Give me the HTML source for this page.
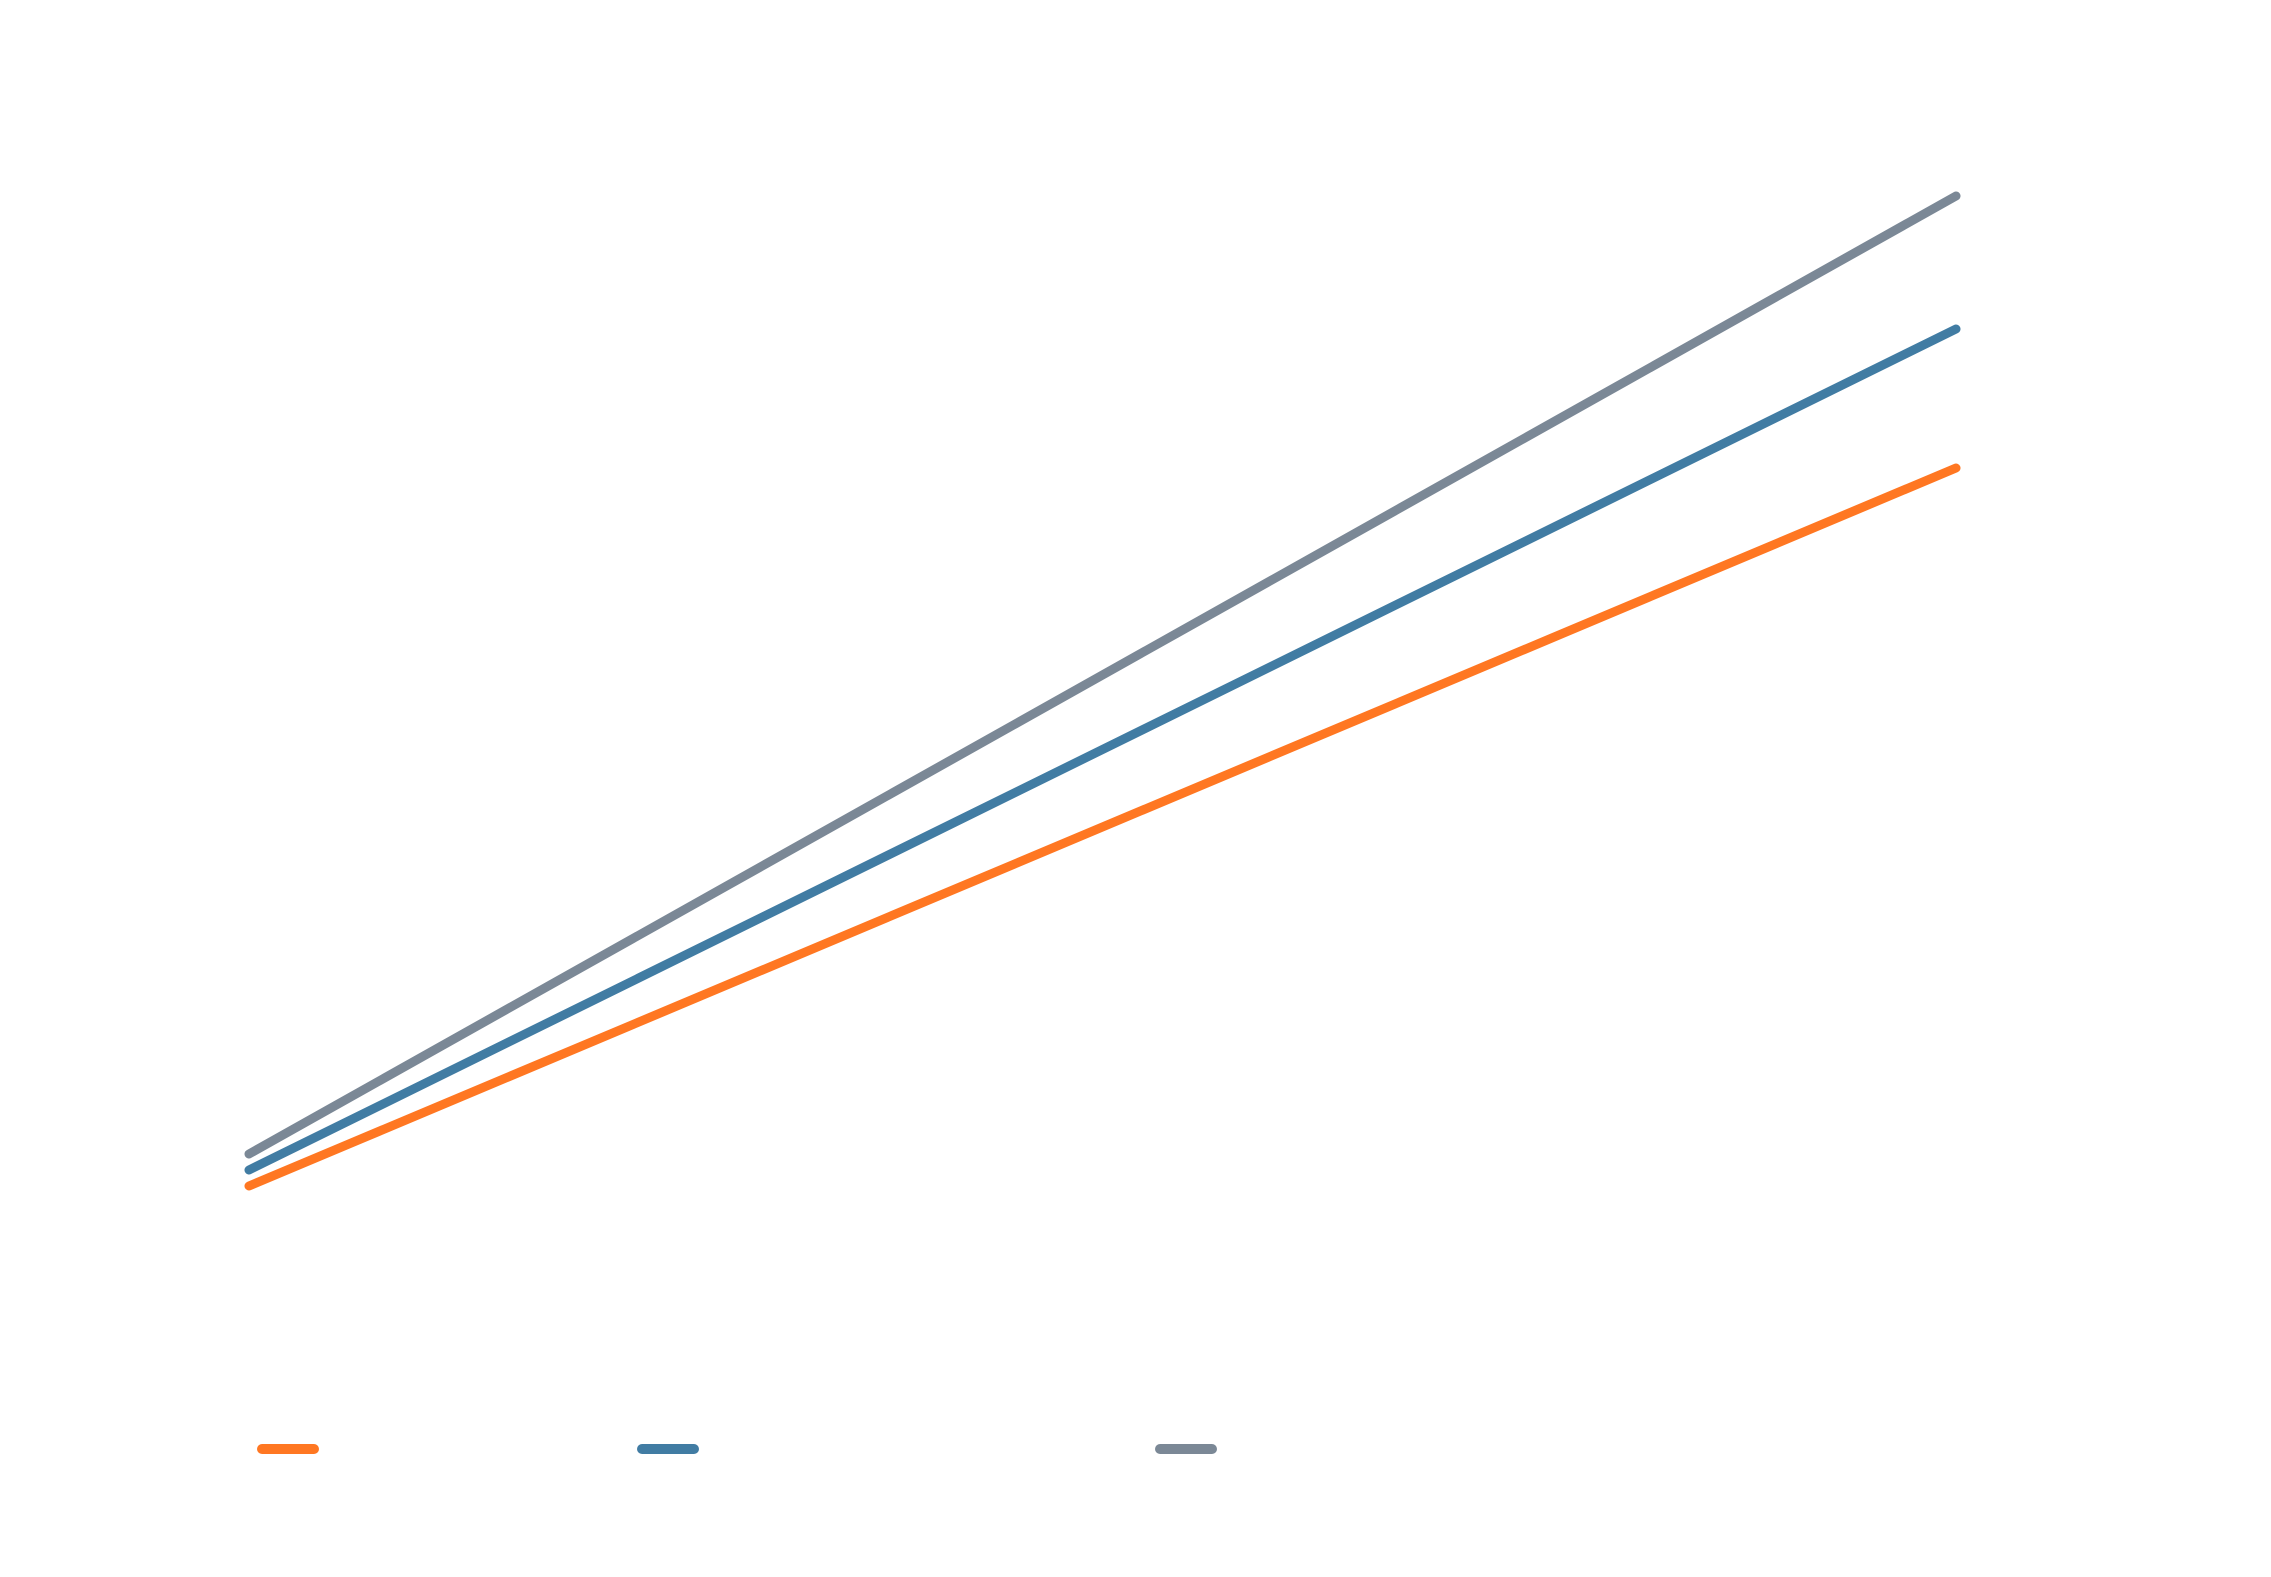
<!DOCTYPE html>
<html><head><meta charset="utf-8"><style>html,body{margin:0;padding:0;background:#fff}svg{display:block}</style></head>
<body>
<svg width="2271" height="1577" viewBox="0 0 2271 1577" xmlns="http://www.w3.org/2000/svg">
<rect width="2271" height="1577" fill="#fff"/>
<g stroke-linecap="round" fill="none" stroke-width="9">
<line x1="249" y1="1154" x2="1956" y2="196" stroke="#7b8896"/>
<line x1="249" y1="1170" x2="1956" y2="329" stroke="#417ca3"/>
<line x1="249" y1="1186" x2="1956" y2="468" stroke="#ff7722"/>
</g>
<g stroke-linecap="round" stroke-width="10">
<line x1="262" y1="1449" x2="314" y2="1449" stroke="#ff7722"/>
<line x1="642" y1="1449" x2="694" y2="1449" stroke="#417ca3"/>
<line x1="1160" y1="1449" x2="1212" y2="1449" stroke="#7b8896"/>
</g>
</svg>
</body></html>
